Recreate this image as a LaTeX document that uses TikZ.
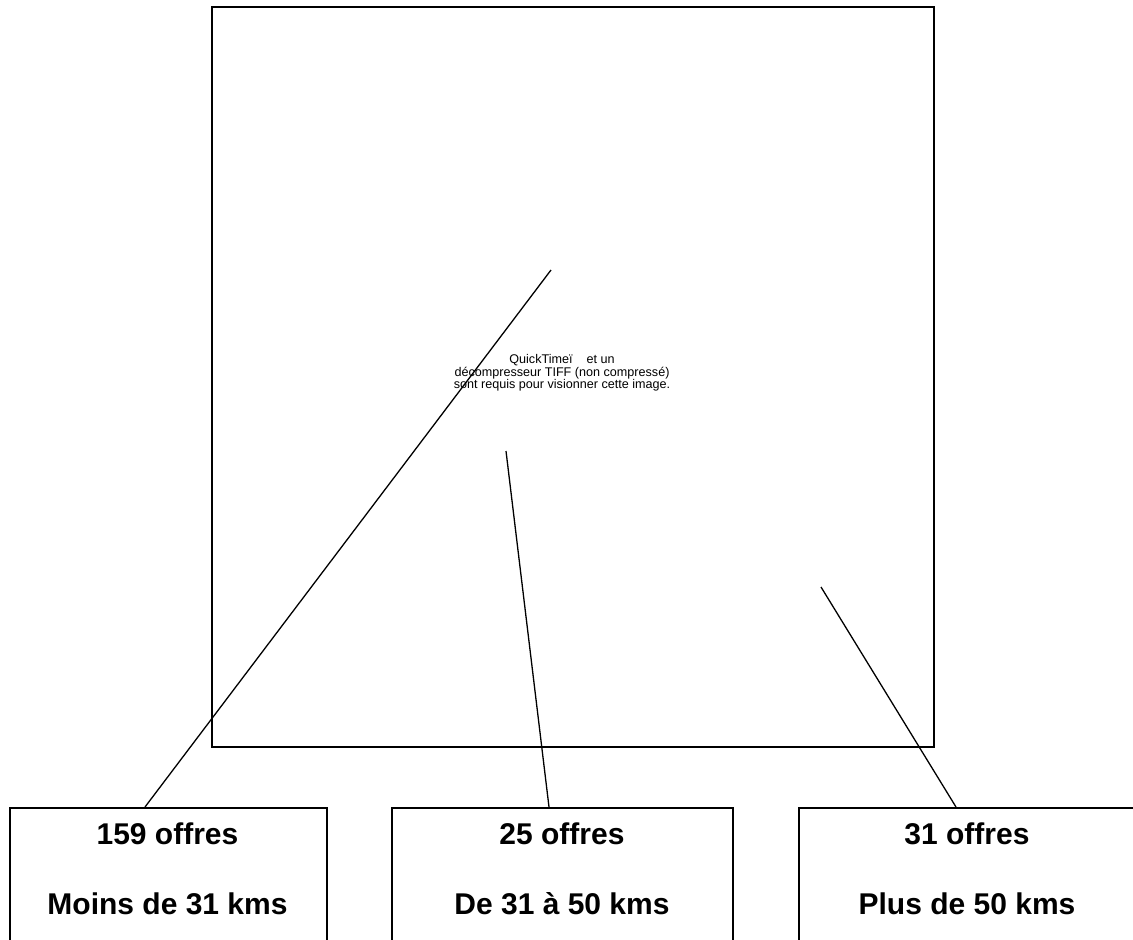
\documentclass[tikz,border=0pt]{standalone}
\usepackage{fontspec}
\setmainfont{Liberation Sans}
\begin{document}
\begin{tikzpicture}[x=1pt,y=-1pt,
  boxstyle/.style={draw=black,line width=1.5pt,rectangle,inner sep=0pt,anchor=north west},
  lbl/.style={font=\fontsize{30}{36}\selectfont\bfseries,inner sep=0pt},
  small/.style={font=\fontsize{12.6}{12.5}\selectfont,align=center,inner sep=0pt},
  leader/.style={draw=black,line width=1.3pt}]
\useasboundingbox (0,0) rectangle (1133,940);
\clip (0,0) rectangle (1133,940);
\fill[white] (0,0) rectangle (1133,940);
% picture frame
\node[boxstyle,minimum width=722pt,minimum height=740pt] (pic) at (211,6) {};
\node[small] (qt) at (562,373) {QuickTimeï\ \ \ \ et un\\décompresseur TIFF (non compressé)\\sont requis pour visionner cette image.};
% boxes
\node[boxstyle,minimum width=317pt,minimum height=160pt] (b1) at (9,807) {};
\node[boxstyle,minimum width=341pt,minimum height=160pt] (b2) at (391,807) {};
\node[boxstyle,minimum width=345pt,minimum height=160pt] (b3) at (798,807) {};
\node[lbl] (t1a) at (167.5,834) {159 offres};
\node[lbl] (t1b) at (167.5,904) {Moins de 31 kms};
\node[lbl] (t2a) at (562,834) {25 offres};
\node[lbl] (t2b) at (562,904) {De 31 à 50 kms};
\node[lbl] (t3a) at (967,834) {31 offres};
\node[lbl] (t3b) at (967,904) {Plus de 50 kms};
% leader lines
\coordinate (p1) at (551,270);
\coordinate (p2) at (506,451);
\coordinate (p3) at (821,587);
\coordinate (e1) at (145,807);
\coordinate (e2) at (549,807);
\coordinate (e3) at (956,807);
\draw[leader] (p1) -- (e1);
\draw[leader] (p2) -- (e2);
\draw[leader] (p3) -- (e3);
\end{tikzpicture}
\end{document}
